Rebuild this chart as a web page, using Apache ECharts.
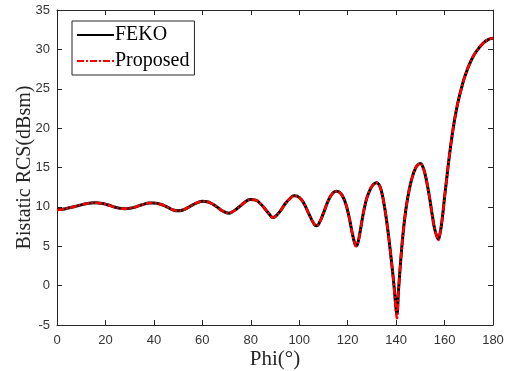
<!DOCTYPE html>
<html>
<head>
<meta charset="utf-8">
<script src="https://cdn.jsdelivr.net/npm/echarts@6/dist/echarts.min.js"></script>
<style>html,body{margin:0;padding:0;background:#fff}#c{width:520px;height:371px}</style>
</head>
<body>
<div id="c"></div>
<script>
const phi = [0,2,4,6,8,10,12,14,16,18,20,22,24,26,28,30,32,34,36,38,40,42,44,46,48,50,52,54,56,58,60,62,64,66,68,70,71,72,74,76,78,80,82,84,86,88,89,90,92,94,96,98,100,102,104,106,107,108,110,112,114,115.5,117,118,119,120,121,122,123,123.5,124,125,126,127,128,129,130,131,132,133,134,135,136,137,138,139,140,140.3,141,142,143,144,145,146,147,148,149,150,151,152,153,154,155,156,157,157.4,158,159,160,161,162,163,164,165,166,167,168,169,170,172,174,176,178,180];
const feko = [9.65,9.7,9.8,9.95,10.1,10.25,10.4,10.5,10.52,10.45,10.35,10.15,9.95,9.82,9.77,9.82,9.95,10.15,10.35,10.48,10.5,10.4,10.2,9.9,9.6,9.5,9.6,9.9,10.25,10.55,10.7,10.65,10.4,10.0,9.55,9.25,9.2,9.3,9.7,10.2,10.7,10.95,10.85,10.4,9.7,8.95,8.65,8.75,9.4,10.3,11.0,11.4,11.2,10.4,9.1,7.9,7.6,7.8,9.2,10.8,11.8,11.97,11.75,11.3,10.6,9.5,8.1,6.5,5.3,5.05,5.2,6.6,8.4,10.0,11.2,12.0,12.6,12.95,13.07,12.8,11.9,10.4,8.4,6.0,3.3,0.4,-3.0,-3.6,-0.6,3.6,7.0,9.6,11.5,13.0,14.1,14.9,15.35,15.5,15.1,14.1,12.6,10.8,8.8,7.1,6.1,5.9,6.4,8.4,11.2,13.9,16.5,18.8,20.8,22.5,23.9,25.1,26.2,27.1,27.9,29.2,30.1,30.8,31.25,31.4];
const proposed = [9.6,9.68,9.8,9.95,10.1,10.25,10.4,10.5,10.52,10.45,10.35,10.15,9.95,9.82,9.77,9.82,9.95,10.15,10.35,10.48,10.5,10.4,10.2,9.9,9.6,9.5,9.6,9.9,10.25,10.55,10.7,10.65,10.4,10.0,9.55,9.25,9.2,9.3,9.7,10.2,10.7,10.95,10.85,10.4,9.7,8.95,8.65,8.75,9.4,10.3,11.0,11.4,11.2,10.4,9.1,7.9,7.6,7.8,9.2,10.8,11.8,11.97,11.75,11.3,10.6,9.5,8.1,6.5,5.3,5.0,5.2,6.6,8.4,10.0,11.2,12.0,12.6,12.95,13.07,12.8,11.9,10.4,8.4,6.0,3.3,0.3,-3.4,-4.15,-0.6,3.6,7.0,9.6,11.5,13.0,14.1,14.9,15.35,15.5,15.1,14.1,12.6,10.8,8.8,7.1,6.1,5.8,6.4,8.4,11.2,13.9,16.5,18.8,20.8,22.5,23.9,25.1,26.2,27.1,27.9,29.2,30.1,30.8,31.25,31.4];
const xTicks = {min:0, max:180, interval:20};
const yTicks = {min:-5, max:35, interval:5};
const seriesNames = ['FEKO','Proposed'];

const chart = echarts.init(document.getElementById('c'), null, {renderer:'canvas'});
const axColor = '#262626';
const tickFont = {fontFamily:'Liberation Sans, Arial, sans-serif', fontSize:13, color:'#333333'};
const nameFont = {fontFamily:'Liberation Serif, Times New Roman, serif', fontSize:20, color:'#262626'};
function baseAxis(extra){
  return Object.assign({
    type:'value',
    nameMoveOverlap:false,
    axisLine:{show:true, onZero:false, lineStyle:{color:axColor, width:1}},
    axisTick:{show:true, inside:true, length:5, lineStyle:{color:axColor}},
    splitLine:{show:false}
  }, extra);
}
chart.setOption({
  animation:false,
  backgroundColor:'#fff',
  grid:{left:57, right:27, top:10, bottom:46, containLabel:false, outerBoundsMode:'none'},
  legend:{
    left:72, top:21, orient:'vertical',
    data:seriesNames,
    itemWidth:37, itemHeight:10, itemGap:6,
    padding:[4,5,4,4],
    borderColor:'#262626', borderWidth:1, backgroundColor:'#fff',
    itemStyle:{opacity:0},
    textStyle:{fontFamily:'Liberation Serif, Times New Roman, serif', fontSize:20, color:'#000', padding:[0,0,0,-4]}
  },
  xAxis:[
    baseAxis({position:'bottom', min:xTicks.min, max:xTicks.max, interval:xTicks.interval,
      axisLabel:Object.assign({margin:9}, tickFont),
      name:'Phi(°)', nameLocation:'middle', nameGap:24, nameTextStyle:Object.assign({}, nameFont, {fontSize:21})}),
    baseAxis({position:'top', min:xTicks.min, max:xTicks.max, interval:xTicks.interval, axisLabel:{show:false}})
  ],
  yAxis:[
    baseAxis({position:'left', min:yTicks.min, max:yTicks.max, interval:yTicks.interval,
      axisLabel:Object.assign({margin:7}, tickFont),
      name:'Bistatic RCS(dBsm)', nameLocation:'middle', nameGap:22, nameTextStyle:nameFont}),
    baseAxis({position:'right', min:yTicks.min, max:yTicks.max, interval:yTicks.interval, axisLabel:{show:false}})
  ],
  series:[
    {name:seriesNames[0], type:'line', symbol:'none', showSymbol:false, smooth:0.5,
     data:phi.map((p,i)=>[p,feko[i]]),
     lineStyle:{color:'#000', width:3}, itemStyle:{color:'#000'}},
    {name:seriesNames[1], type:'line', symbol:'none', showSymbol:false, smooth:0.5,
     data:phi.map((p,i)=>[p,proposed[i]]),
     lineStyle:{color:'#ff0000', width:2.5, type:[7,2,2,2]}, itemStyle:{color:'#ff0000'}}
  ]
});
</script>
</body>
</html>
